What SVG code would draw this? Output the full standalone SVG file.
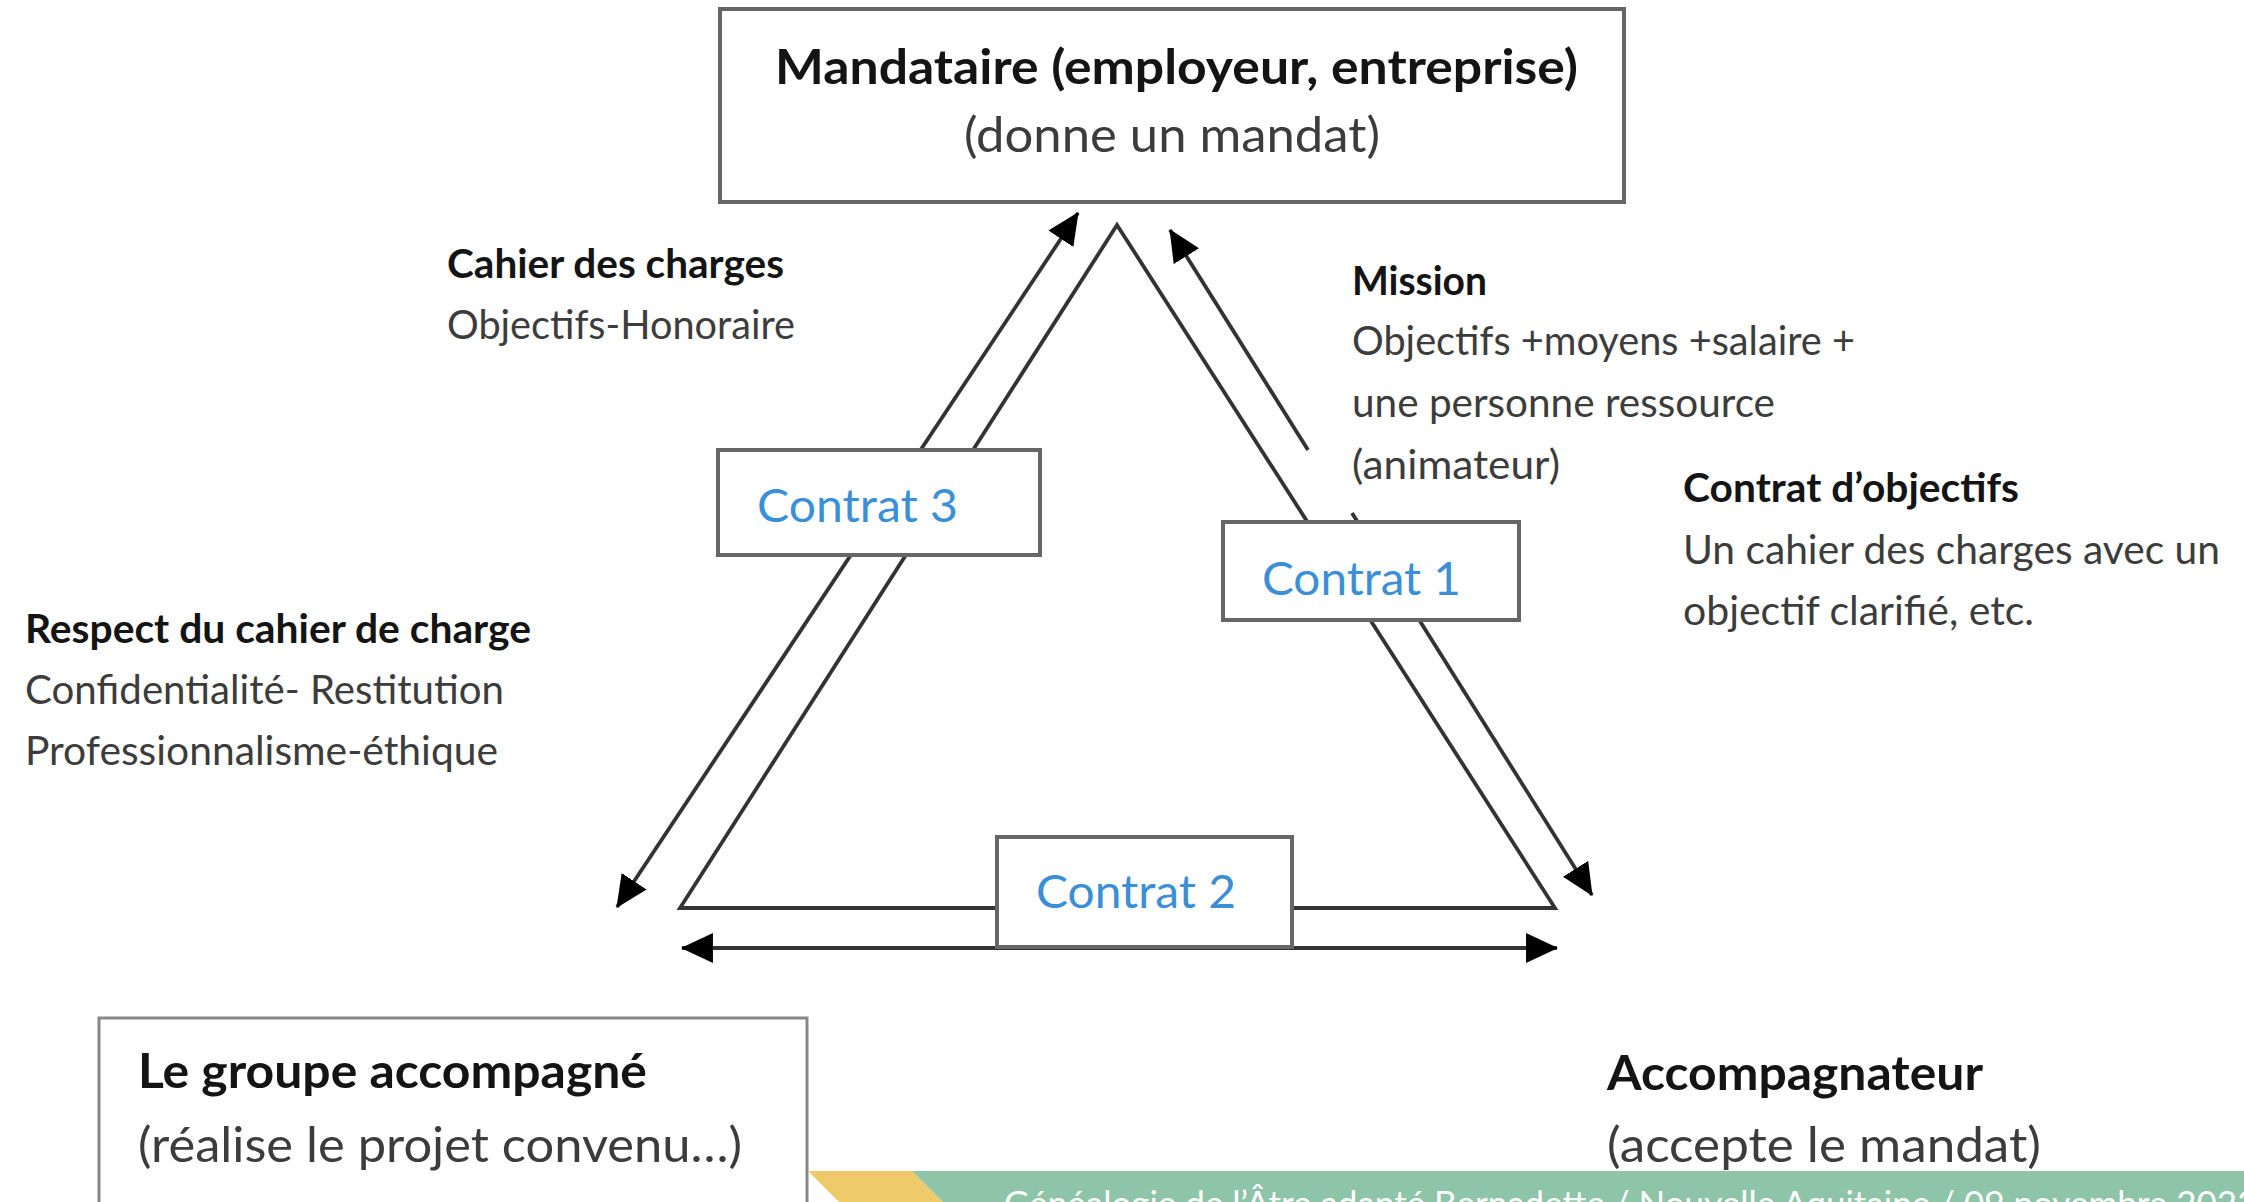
<svg xmlns="http://www.w3.org/2000/svg" width="2244" height="1202" viewBox="0 0 2244 1202">
<style>
  text { font-family: Lato, "Open Sans", "Liberation Sans", sans-serif; }
  .b { font-weight: bold; fill: #141414; }
  .r { font-weight: normal; fill: #3c3c3c; }
  .s { font-size: 40px; }
  .big { font-size: 48px; }
  .ct { font-size: 47px; fill: #3a8fd6; }
  .box { fill: #ffffff; stroke: #666666; stroke-width: 4; }
  .ln { fill: none; stroke: #333333; stroke-width: 3.8; }
  .foot { font-size: 35px; fill: #ffffff; }
</style>
<defs>
  <marker id="ah" markerUnits="userSpaceOnUse" markerWidth="32" markerHeight="30" viewBox="0 0 30 28" refX="29" refY="14" orient="auto-start-reverse">
    <path d="M0,0 L30,14 L0,28 z" fill="#000000"/>
  </marker>
</defs>
<rect width="2244" height="1202" fill="#ffffff"/>

<g id="connectors">
  <polygon class="ln" points="1117,225 1555,908 680,908"/>
  <line class="ln" x1="1078" y1="213" x2="617" y2="907" marker-start="url(#ah)" marker-end="url(#ah)"/>
  <line class="ln" x1="1308" y1="450" x2="1170" y2="230" marker-end="url(#ah)"/>
  <line class="ln" x1="1352" y1="513" x2="1592" y2="895" marker-end="url(#ah)"/>
  <line class="ln" x1="682" y1="948" x2="1557" y2="948" marker-start="url(#ah)" marker-end="url(#ah)"/>
</g>

<g id="node-mandataire">
  <rect class="box" x="720" y="9" width="904" height="193"/>
  <text class="b big" x="775" y="84" textLength="803" lengthAdjust="spacingAndGlyphs">Mandataire (employeur, entreprise)</text>
  <text class="r big" x="964" y="152" textLength="416" lengthAdjust="spacingAndGlyphs">(donne un mandat)</text>
</g>

<g id="contrat-3">
  <rect class="box" x="718" y="450" width="322" height="105"/>
  <text class="ct" x="757" y="522" textLength="201" lengthAdjust="spacingAndGlyphs">Contrat 3</text>
</g>
<g id="contrat-1">
  <rect class="box" x="1223" y="522" width="296" height="98"/>
  <text class="ct" x="1262" y="595" textLength="199" lengthAdjust="spacingAndGlyphs">Contrat 1</text>
</g>
<g id="contrat-2">
  <rect class="box" x="997" y="837" width="295" height="110"/>
  <text class="ct" x="1036" y="908" textLength="200" lengthAdjust="spacingAndGlyphs">Contrat 2</text>
</g>

<g id="label-cahier">
  <text class="b s" x="447" y="278" textLength="337" lengthAdjust="spacingAndGlyphs">Cahier des charges</text>
  <text class="r s" x="447" y="339" textLength="348" lengthAdjust="spacingAndGlyphs">Objectifs-Honoraire</text>
</g>

<g id="label-mission">
  <text class="b s" x="1352" y="295" textLength="135" lengthAdjust="spacingAndGlyphs">Mission</text>
  <text class="r s" x="1352" y="355" textLength="503" lengthAdjust="spacingAndGlyphs">Objectifs +moyens +salaire +</text>
  <text class="r s" x="1352" y="417" textLength="423" lengthAdjust="spacingAndGlyphs">une personne ressource</text>
  <text class="r s" x="1352" y="479" textLength="208" lengthAdjust="spacingAndGlyphs">(animateur)</text>
</g>

<g id="label-contrat-objectifs">
  <text class="b s" x="1683" y="502" textLength="336" lengthAdjust="spacingAndGlyphs">Contrat d’objectifs</text>
  <text class="r s" x="1683" y="564" textLength="537" lengthAdjust="spacingAndGlyphs">Un cahier des charges avec un</text>
  <text class="r s" x="1683" y="625" textLength="351" lengthAdjust="spacingAndGlyphs">objectif clarifié, etc.</text>
</g>

<g id="label-respect">
  <text class="b s" x="25" y="643" textLength="506" lengthAdjust="spacingAndGlyphs">Respect du cahier de charge</text>
  <text class="r s" x="25" y="704" textLength="479" lengthAdjust="spacingAndGlyphs">Confidentialité- Restitution</text>
  <text class="r s" x="25" y="765" textLength="473" lengthAdjust="spacingAndGlyphs">Professionnalisme-éthique</text>
</g>

<g id="node-groupe">
  <rect x="99" y="1018" width="708" height="200" fill="#ffffff" stroke="#888888" stroke-width="3"/>
  <text class="b big" x="138" y="1088" textLength="509" lengthAdjust="spacingAndGlyphs">Le groupe accompagné</text>
  <text class="r big" x="138" y="1162" textLength="604" lengthAdjust="spacingAndGlyphs">(réalise le projet convenu…)</text>
</g>

<g id="node-accompagnateur">
  <text class="b big" x="1607" y="1090" textLength="376" lengthAdjust="spacingAndGlyphs">Accompagnateur</text>
  <text class="r big" x="1607" y="1162" textLength="434" lengthAdjust="spacingAndGlyphs">(accepte le mandat)</text>
</g>

<g id="footer-band">
  <polygon points="808,1171 912,1171 943,1202 839,1202" fill="#efca6b"/>
  <polygon points="912,1171 2244,1171 2244,1202 943,1202" fill="#8ec4a8"/>
  <text class="foot" x="1004" y="1216">Généalogie de l’Âtre adapté Bernadette / Nouvelle Aquitaine / 09 novembre 2023</text>
</g>
</svg>
